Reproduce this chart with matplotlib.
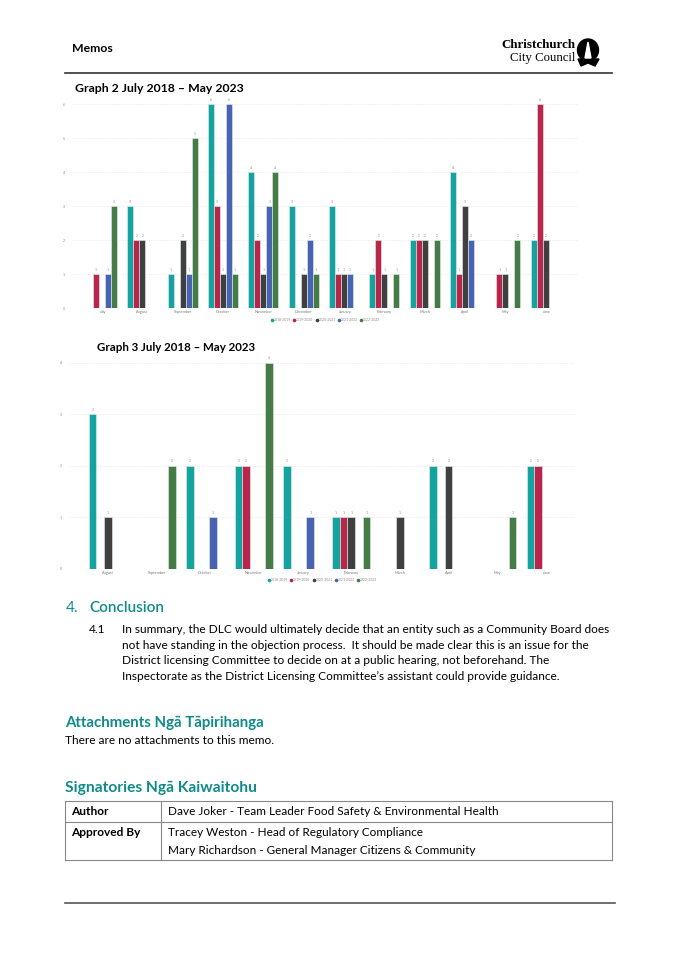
import matplotlib
matplotlib.use("Agg")
import matplotlib.pyplot as plt
import numpy as np
from matplotlib.patches import Ellipse, Polygon

# ==========================================================
# Data
# ==========================================================

series = ["2018-2019", "2019-2020", "2020-2021", "2021-2022", "2022-2023"]
colors = ["#14a39f", "#b8264b", "#404040", "#4763b1", "#457c46"]

months2 = ["July", "August", "September", "October", "November", "December",
           "January", "February", "March", "April", "May", "June"]
g2_1819 = [0, 3, 1, 6, 4, 3, 3, 1, 2, 4, 0, 2]
g2_1920 = [1, 2, 0, 3, 2, 0, 1, 2, 2, 1, 1, 6]
g2_2021 = [0, 2, 2, 1, 1, 1, 1, 1, 2, 3, 1, 2]
g2_2122 = [1, 0, 1, 6, 3, 2, 1, 0, 0, 2, 0, 0]
g2_2223 = [3, 0, 5, 1, 4, 1, 0, 1, 2, 0, 2, 0]

months3 = ["August", "September", "October", "November", "January",
           "February", "March", "April", "May", "June"]
g3_1819 = [3, 0, 2, 2, 2, 1, 0, 2, 0, 2]
g3_1920 = [0, 0, 0, 2, 0, 1, 0, 0, 0, 2]
g3_2021 = [1, 0, 0, 0, 0, 1, 1, 2, 0, 0]
g3_2122 = [0, 0, 1, 0, 1, 0, 0, 0, 0, 0]
g3_2223 = [0, 2, 0, 4, 0, 1, 0, 0, 1, 0]

paragraph = [
    "In summary, the DLC would ultimately decide that an entity such as a Community Board does",
    "not have standing in the objection process.  It should be made clear this is an issue for the",
    "District licensing Committee to decide on at a public hearing, not beforehand. The",
    "Inspectorate as the District Licensing Committee\u2019s assistant could provide guidance.",
]

# ==========================================================
# Page
# ==========================================================

W, H = 675, 955
plt.rcParams["font.family"] = ["Lato", "DejaVu Sans"]

fig = plt.figure(figsize=(W / 100, H / 100), dpi=100)
fig.patch.set_facecolor("white")

TEAL = "#0f8b8b"


def fx(x):
    return x / W


def fy(y):
    return 1 - y / H


def txt(x, y, s, **kw):
    kw.setdefault("va", "center")
    fig.text(fx(x), fy(y), s, **kw)


def hline(x0, x1, y, color, lw):
    fig.add_artist(plt.Line2D([fx(x0), fx(x1)], [fy(y), fy(y)],
                              color=color, lw=lw, transform=fig.transFigure))


def vline(x, y0, y1, color, lw):
    fig.add_artist(plt.Line2D([fx(x), fx(x)], [fy(y0), fy(y1)],
                              color=color, lw=lw, transform=fig.transFigure))


# header
txt(72, 49, "Memos", fontsize=8.8, fontweight="bold")
txt(575, 45, "Christchurch", fontsize=9.4, fontweight="bold", ha="right",
    family="Liberation Serif")
txt(575, 58, "City Council", fontsize=9.2, ha="right", family="Liberation Serif")
fig.add_artist(Ellipse((fx(588), fy(50)), 21 / W, 22 / H, color="black",
                       transform=fig.transFigure))
fig.add_artist(Polygon([[fx(578), fy(59)], [fx(599), fy(59)], [fx(595), fy(66)],
                        [fx(588), fy(63)], [fx(581), fy(66)]], closed=True,
                       color="black", transform=fig.transFigure))
fig.add_artist(Polygon([[fx(588), fy(42)], [fx(585), fy(58)], [fx(591), fy(58)]],
                       closed=True, color="white", transform=fig.transFigure))
hline(65, 612, 73, "#333333", 1.2)

# ==========================================================
# Bar chart helper
# ==========================================================


def bar_chart(rect, months, values, ymax, xlim, width, legend_y):
    ax = fig.add_axes(rect)
    x = np.arange(len(months))
    for k, (vals, c) in enumerate(zip(values, colors)):
        pos = x + (k - 2) * width
        v = np.array(vals)
        ax.bar(pos, v, width=width, color=c, edgecolor="#e6f0ee", linewidth=0.4)
        for p, val in zip(pos, v):
            if val > 0:
                ax.text(p, val + ymax * 0.012, str(val), ha="center", va="bottom",
                        fontsize=2.4, color="#888888", clip_on=False)
    ax.set_xlim(*xlim)
    ax.set_ylim(0, ymax)
    ax.set_yticks(range(ymax + 1))
    ax.set_xticks(x)
    ax.set_xticklabels(months, fontsize=2.8, color="#777777")
    ax.tick_params(axis="y", labelsize=2.6, labelcolor="#888888", length=0, pad=6)
    ax.tick_params(axis="x", length=0, pad=1.5)
    ax.grid(axis="y", color="#dddddd", linestyle=":", linewidth=0.5)
    ax.set_axisbelow(True)
    for s in ax.spines.values():
        s.set_visible(False)
    handles = [plt.Line2D([], [], marker="o", linestyle="", color=c, markersize=1.6)
               for c in colors]
    fig.legend(handles, series, loc="center", bbox_to_anchor=(rect[0] + rect[2] / 2, legend_y),
               ncol=5, fontsize=2.4, frameon=False, handletextpad=0.1,
               columnspacing=0.6, labelcolor="#888888", handlelength=0.8)
    return ax


# Graph 2
txt(75, 89, "Graph 2 July 2018 \u2013 May 2023", fontsize=8.8, fontweight="bold")
bar_chart([fx(73), fy(308.3), (578 - 73) / W, (308.3 - 104.3) / H],
          months2, [g2_1819, g2_1920, g2_2021, g2_2122, g2_2223],
          6, (-0.72, 11.8), 0.149, fy(320))

# Graph 3
txt(97, 347.5, "Graph 3 July 2018 \u2013 May 2023", fontsize=8.3, fontweight="bold")
bar_chart([fx(70), fy(569), (575 - 70) / W, (569 - 362.7) / H],
          months3, [g3_1819, g3_1920, g3_2021, g3_2122, g3_2223],
          4, (-0.78, 9.6), 0.158, fy(580))

# ==========================================================
# Text sections
# ==========================================================

txt(66, 607.5, "4.", fontsize=11, color=TEAL)
txt(89, 607.5, "Conclusion", fontsize=11, color=TEAL, fontweight="semibold")
txt(89, 629.5, "4.1", fontsize=8.6)
for i, line in enumerate(paragraph):
    txt(121.5, 629.5 + i * 15.6, line, fontsize=8.6)

txt(65, 723, "Attachments Ng\u0101 T\u0101pirihanga", fontsize=10.8, color=TEAL,
    fontweight="bold")
txt(65, 740.5, "There are no attachments to this memo.", fontsize=8.6)

txt(65, 788, "Signatories Ng\u0101 Kaiwaitohu", fontsize=11.2, color=TEAL,
    fontweight="bold")

# table
tc = "#888888"
hline(64.5, 612, 801, tc, 0.8)
hline(64.5, 612, 822, tc, 0.8)
hline(64.5, 612, 860, tc, 0.8)
vline(64.5, 801, 860, tc, 0.8)
vline(161, 801, 860, tc, 0.8)
vline(612, 801, 860, tc, 0.8)
txt(71.5, 811.7, "Author", fontsize=8.6, fontweight="bold")
txt(168, 811.7, "Dave Joker - Team Leader Food Safety & Environmental Health", fontsize=8.45)
txt(71.5, 832.5, "Approved By", fontsize=8.6, fontweight="bold")
txt(168, 832.5, "Tracey Weston - Head of Regulatory Compliance", fontsize=8.45)
txt(168, 850.5, "Mary Richardson - General Manager Citizens & Community", fontsize=8.45)

hline(65, 615, 903, "#555555", 1.2)

fig.savefig("out.png", dpi=100)
